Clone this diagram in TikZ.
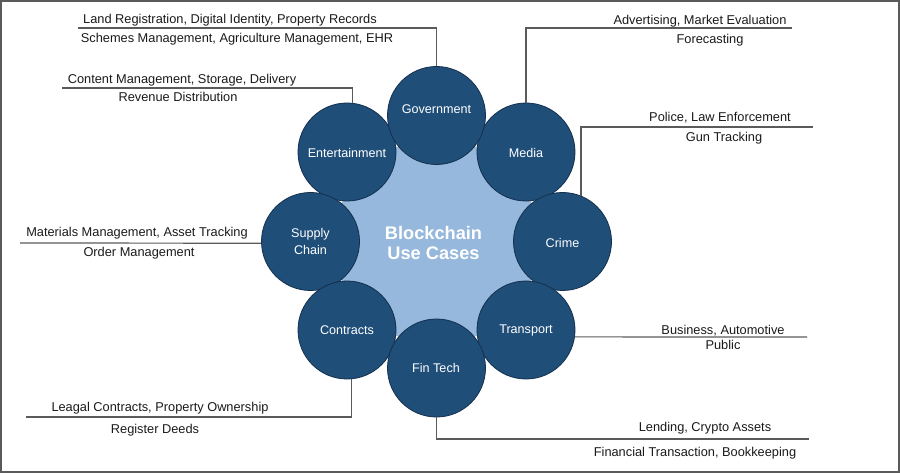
\documentclass[tikz,border=0pt]{standalone}
\usepackage{fontspec}
\setmainfont{Liberation Sans}
\definecolor{navy}{HTML}{1F4E79}
\definecolor{navyline}{HTML}{15304D}
\definecolor{core}{HTML}{95B8DC}
\definecolor{linegray}{HTML}{5A5A5A}
\definecolor{txt}{HTML}{1A1A1A}
\begin{document}
\begin{tikzpicture}[x=1pt,y=-1pt,
  usecase/.style={circle,minimum size=98pt,inner sep=0pt,fill=navy,draw=navyline,line width=0.8pt},
  uclabel/.style={text=white,font=\fontsize{12.6}{17}\selectfont,align=center,inner sep=0pt},
  side/.style={text=txt,font=\fontsize{12.8}{15}\selectfont,inner sep=0pt,text height=0.72em,text depth=0.2em,yshift=-2pt},
  conn/.style={draw=linegray,line width=1.2pt}]
\useasboundingbox (0,0) rectangle (900,473);
\draw[draw=linegray,line width=1.3pt] (1,1) rectangle (899,472);

% core disc
\node[circle,minimum size=204pt,inner sep=0pt,fill=core,draw=gray!60,line width=0.6pt] (core) at (436.5,241.5) {};

% use case circles
\node[usecase] (ent) at (347,152) {};
\node[usecase] (med) at (526,152) {};
\node[usecase] (sup) at (310.5,241.5) {};
\node[usecase] (cri) at (562.5,241.5) {};
\node[usecase] (con) at (347,330) {};
\node[usecase] (tra) at (526,330) {};
\node[usecase] (gov) at (436.5,115.5) {};
\node[usecase] (fin) at (436.5,368) {};

% labels
\node[uclabel] (govl) at (436.5,109.5) {Government};
\node[uclabel] (entl) at (347,152.5) {Entertainment};
\node[uclabel] (medl) at (526,152.5) {Media};
\node[uclabel] (supl) at (310.5,241.5) {Supply\\Chain};
\node[uclabel] (cril) at (562.5,242.5) {Crime};
\node[uclabel] (conl) at (347,330.5) {Contracts};
\node[uclabel] (tral) at (526,330.5) {Transport};
\node[uclabel] (finl) at (436,367.5) {Fin Tech};
\node[text=white,font=\fontsize{18.2}{20}\bfseries,align=center,inner sep=0pt] (title) at (433.5,242.5) {Blockchain\\Use Cases};

% connector ends
\coordinate (govE) at (78,28);
\coordinate (entE) at (62,88);
\coordinate (medE) at (792,28);
\coordinate (criE) at (813,127);
\coordinate (supE) at (20,243);
\coordinate (conE) at (26,417);
\coordinate (traE) at (807,337);
\coordinate (finE) at (809,439);

\draw[conn] (gov.north) |- (govE);
\draw[conn] (ent.84) |- (entE);
\draw[conn] (med.north) |- (medE);
\draw[conn] (cri.68) |- (criE);
\draw[conn] (sup.182) -- (supE);
\draw[conn] (con.-85) |- (conE);
\draw[conn] (tra.-8) -- (traE);
\draw[conn] (fin.south) |- (finE);

% side texts
\node[side] (g1) at (230,19) {Land Registration, Digital Identity, Property Records};
\node[side] (g2) at (237,38) {Schemes Management, Agriculture Management, EHR};
\node[side] (e1) at (182,79) {Content Management, Storage, Delivery};
\node[side] (e2) at (178,97) {Revenue Distribution};
\node[side] (m1) at (700,20) {Advertising, Market Evaluation};
\node[side] (m2) at (710,39) {Forecasting};
\node[side] (c1) at (720,117) {Police, Law Enforcement};
\node[side] (c2) at (724,137) {Gun Tracking};
\node[side] (s1) at (137,232) {Materials Management, Asset Tracking};
\node[side] (s2) at (139,252) {Order Management};
\node[side] (k1) at (160,407) {Leagal Contracts, Property Ownership};
\node[side] (k2) at (155,429) {Register Deeds};
\node[side] (t1) at (723,330) {Business, Automotive};
\node[side] (t2) at (723,345) {Public};
\node[side] (f1) at (705,427) {Lending, Crypto Assets};
\node[side] (f2) at (695,452) {Financial Transaction, Bookkeeping};
\end{tikzpicture}
\end{document}
